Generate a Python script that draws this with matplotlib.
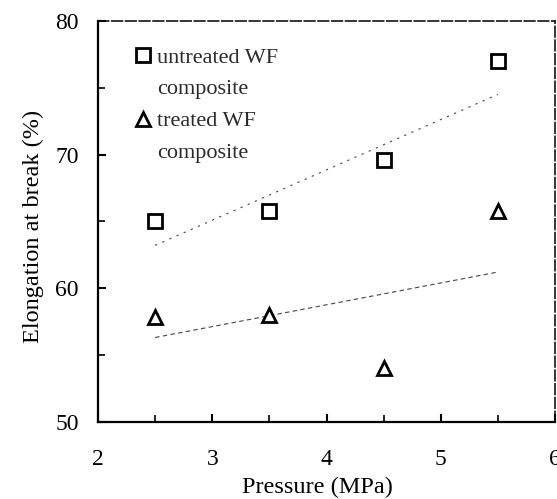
import matplotlib
matplotlib.use("Agg")
import matplotlib.pyplot as plt
from matplotlib.lines import Line2D
from matplotlib.ticker import MultipleLocator

plt.rcParams['font.family'] = ['Liberation Serif', 'DejaVu Serif']

pressure = [2.5, 3.5, 4.5, 5.5]
untreated = [65.0, 65.8, 69.6, 77.0]
treated = [57.8, 58.0, 54.0, 65.8]
trend_x = [2.5, 5.5]
untreated_trend = [63.2, 74.5]
treated_trend = [56.3, 61.2]
legend_lines = [['untreated WF', 'composite'], ['treated WF', 'composite']]

fig = plt.figure(figsize=(5.57, 4.99), dpi=100)
ax = fig.add_axes([0.176, 0.155, 0.8204, 0.803])

ax.plot(trend_x, untreated_trend, color='#444444', lw=0.8, linestyle=(0, (2, 5)))
ax.plot(trend_x, treated_trend, color='#444444', lw=0.8, linestyle=(0, (4, 3)))

sq, = ax.plot(pressure, untreated, linestyle='none', marker='s', markersize=10,
              markerfacecolor='white', markeredgecolor='black', markeredgewidth=2)
tri, = ax.plot(pressure, treated, linestyle='none', marker='^', markersize=10,
               markerfacecolor='white', markeredgecolor='black', markeredgewidth=2)

ax.set_xlim(2, 6)
ax.set_ylim(50, 80)
ax.xaxis.set_major_locator(MultipleLocator(1))
ax.xaxis.set_minor_locator(MultipleLocator(0.5))
ax.yaxis.set_major_locator(MultipleLocator(10))
ax.yaxis.set_minor_locator(MultipleLocator(5))
ax.tick_params(which='both', direction='in', labelsize=17, top=False, right=False)
ax.tick_params(which='major', length=6, width=1.5)
ax.tick_params(which='minor', length=5, width=1.2)
ax.tick_params(axis='y', which='major', pad=14)
ax.tick_params(axis='x', which='major', pad=19.5)

for s in ['left', 'bottom']:
    ax.spines[s].set_linewidth(1.6)
for s in ['top', 'right']:
    ax.spines[s].set_linewidth(1.1)
    ax.spines[s].set_linestyle((0, (7, 2)))

ax.set_xlabel('Pressure (MPa)', fontsize=17.5)
ax.set_ylabel('Elongation at break (%)', fontsize=17.5)
ax.xaxis.set_label_coords(0.481, -0.1386)
ax.yaxis.set_label_coords(-0.118, 0.488)

blank = Line2D([], [], linestyle='none', marker=None)
handles = [sq, blank, tri, blank]
labels = [legend_lines[0][0], legend_lines[0][1], legend_lines[1][0], legend_lines[1][1]]
leg = ax.legend(handles, labels, loc='upper left', frameon=False, fontsize=16,
                handlelength=0.6, handletextpad=0.35, labelspacing=0.51,
                borderaxespad=0.0, borderpad=0.0,
                bbox_to_anchor=(0.083, 0.935), markerscale=0.95)
for t in leg.get_texts():
    t.set_color('#2a2a2a')

fig.savefig('out.png', dpi=100)
